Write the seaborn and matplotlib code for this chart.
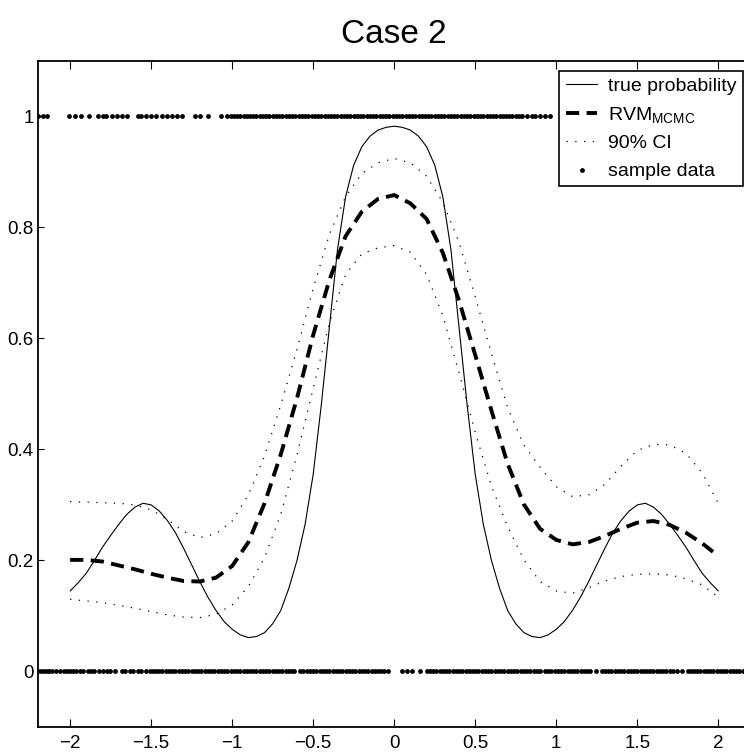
import matplotlib
matplotlib.use("Agg")
import matplotlib.pyplot as plt
import numpy as np
import pandas as pd
import seaborn as sns

# ---- curves -------------------------------------------------------------
x_true = [-2.0, -1.95, -1.9, -1.85, -1.8, -1.75, -1.7, -1.65, -1.6, -1.55,
          -1.5, -1.45, -1.4, -1.35, -1.3, -1.25, -1.2, -1.15, -1.1, -1.05,
          -1.0, -0.95, -0.9, -0.85, -0.8, -0.75, -0.7, -0.65, -0.6, -0.55,
          -0.5, -0.45, -0.4, -0.35, -0.3, -0.25, -0.2, -0.15, -0.1, -0.05,
          0.0, 0.05, 0.1, 0.15, 0.2, 0.25, 0.3, 0.35, 0.4, 0.45,
          0.5, 0.55, 0.6, 0.65, 0.7, 0.75, 0.8, 0.85, 0.9, 0.95,
          1.0, 1.05, 1.1, 1.15, 1.2, 1.25, 1.3, 1.35, 1.4, 1.45,
          1.5, 1.55, 1.6, 1.65, 1.7, 1.75, 1.8, 1.85, 1.9, 1.95, 2.0]
p_true = [0.145, 0.160, 0.177, 0.200, 0.224, 0.245, 0.265, 0.283, 0.296, 0.303,
          0.300, 0.289, 0.272, 0.250, 0.222, 0.192, 0.162, 0.134, 0.110, 0.090,
          0.076, 0.066, 0.061, 0.063, 0.070, 0.086, 0.110, 0.150, 0.200, 0.265,
          0.355, 0.480, 0.620, 0.760, 0.855, 0.912, 0.945, 0.964, 0.975, 0.980,
          0.982, 0.980, 0.975, 0.964, 0.945, 0.912, 0.855, 0.760, 0.620, 0.480,
          0.355, 0.265, 0.200, 0.150, 0.110, 0.086, 0.070, 0.063, 0.061, 0.066,
          0.076, 0.090, 0.110, 0.134, 0.162, 0.192, 0.222, 0.250, 0.272, 0.289,
          0.300, 0.303, 0.296, 0.283, 0.265, 0.245, 0.224, 0.200, 0.177, 0.160, 0.145]

x_est = [-2.0, -1.9, -1.8, -1.7, -1.6, -1.5, -1.4, -1.3, -1.2, -1.1,
         -1.0, -0.9, -0.8, -0.7, -0.6, -0.5, -0.4, -0.3, -0.2, -0.1,
         0.0, 0.1, 0.2, 0.3, 0.4, 0.5, 0.6, 0.7, 0.8, 0.9,
         1.0, 1.1, 1.2, 1.3, 1.4, 1.5, 1.6, 1.7, 1.8, 1.9, 2.0]
p_rvm = [0.201, 0.201, 0.198, 0.191, 0.184, 0.176, 0.169, 0.163, 0.162, 0.169,
         0.190, 0.233, 0.303, 0.391, 0.492, 0.606, 0.705, 0.784, 0.828, 0.851,
         0.858, 0.843, 0.815, 0.754, 0.668, 0.570, 0.470, 0.374, 0.301, 0.257,
         0.237, 0.229, 0.233, 0.244, 0.257, 0.268, 0.271, 0.264, 0.250, 0.231, 0.208]
ci_upper = [0.306, 0.305, 0.304, 0.303, 0.300, 0.291, 0.274, 0.252, 0.241, 0.248,
            0.271, 0.318, 0.388, 0.480, 0.580, 0.690, 0.787, 0.855, 0.897, 0.916,
            0.924, 0.916, 0.892, 0.845, 0.773, 0.675, 0.573, 0.475, 0.408, 0.368,
            0.333, 0.315, 0.318, 0.337, 0.370, 0.398, 0.409, 0.408, 0.393, 0.358, 0.303]
ci_lower = [0.130, 0.127, 0.124, 0.119, 0.114, 0.108, 0.102, 0.098, 0.097, 0.103,
            0.120, 0.153, 0.205, 0.283, 0.390, 0.510, 0.628, 0.715, 0.752, 0.763,
            0.767, 0.755, 0.715, 0.641, 0.538, 0.431, 0.334, 0.261, 0.201, 0.162,
            0.145, 0.141, 0.151, 0.163, 0.171, 0.175, 0.176, 0.174, 0.167, 0.156, 0.134]

# ---- sample data (class 1 on top row, class 0 on bottom row) ------------
x_class1 = [-2.20, -2.17, -2.14, -2.01, -1.97, -1.93, -1.885, -1.83, -1.80, -1.78,
            -1.74, -1.71, -1.68, -1.65, -1.58, -1.56, -1.53, -1.50, -1.47, -1.43,
            -1.40, -1.37, -1.34, -1.31, -1.23, -1.20, -1.15, -1.07,
            -1.03, -1.01, -0.99, -0.97, -0.95, -0.93, -0.91, -0.89, -0.87, -0.85,
            -0.83, -0.81, -0.79, -0.77, -0.75, -0.73, -0.71, -0.69, -0.67, -0.65,
            -0.63, -0.61, -0.59, -0.57, -0.55, -0.53, -0.51, -0.49, -0.47, -0.45,
            -0.43, -0.41, -0.39, -0.37, -0.35, -0.33, -0.31, -0.29, -0.27, -0.25,
            -0.23, -0.21, -0.19, -0.17, -0.15, -0.13, -0.11, -0.09, -0.07, -0.05,
            -0.03, -0.01, 0.01, 0.03, 0.05, 0.07, 0.09, 0.11, 0.13, 0.15,
            0.17, 0.19, 0.21, 0.23, 0.25, 0.27, 0.29, 0.31, 0.33, 0.35,
            0.37, 0.39, 0.41, 0.43, 0.45, 0.47, 0.49, 0.51, 0.53, 0.55,
            0.57, 0.59, 0.61, 0.63, 0.65, 0.67, 0.69, 0.71, 0.73, 0.75,
            0.77, 0.79, 0.82, 0.85, 0.87, 0.90, 0.93, 0.96]
x_class0 = [-2.20, -2.18, -2.16, -2.14, -2.13, -2.11, -2.09, -2.06, -2.04, -2.02,
            -2.00, -1.98, -1.965, -1.94, -1.92, -1.89, -1.87, -1.85, -1.82, -1.80,
            -1.775, -1.755, -1.72, -1.68, -1.66, -1.63, -1.61, -1.58, -1.565,
            -1.53, -1.51, -1.49, -1.47, -1.45, -1.43, -1.41, -1.39, -1.37, -1.35,
            -1.33, -1.31, -1.29, -1.27, -1.25, -1.23, -1.21, -1.19, -1.17, -1.15,
            -1.13, -1.11, -1.09, -1.07, -1.05, -1.03, -1.01, -0.99, -0.97, -0.95,
            -0.93, -0.91, -0.89, -0.87, -0.85, -0.83, -0.81, -0.79, -0.77, -0.75,
            -0.73, -0.71, -0.69, -0.67, -0.65, -0.63, -0.62,
            -0.58, -0.56, -0.54, -0.52, -0.50, -0.48, -0.46, -0.44, -0.42, -0.40,
            -0.38, -0.36, -0.34, -0.32, -0.30, -0.28, -0.26, -0.24, -0.22, -0.20,
            -0.18, -0.16, -0.14, -0.12, -0.10, -0.08, -0.06, -0.04,
            0.05, 0.08, 0.11, 0.16,
            0.20, 0.22, 0.24, 0.26, 0.28, 0.30, 0.32, 0.34, 0.36, 0.38,
            0.40, 0.42, 0.44, 0.46, 0.48, 0.50, 0.52, 0.54, 0.56, 0.58,
            0.60, 0.62, 0.64, 0.66, 0.68, 0.70, 0.72, 0.74, 0.76, 0.78,
            0.80, 0.82, 0.84, 0.86, 0.88, 0.90,
            0.93, 0.95, 0.97, 0.99, 1.01, 1.03, 1.05, 1.07, 1.09, 1.11,
            1.13, 1.15, 1.17, 1.19, 1.21, 1.245,
            1.28, 1.30, 1.32, 1.34, 1.36, 1.38, 1.40, 1.42,
            1.44, 1.46, 1.48, 1.50, 1.52, 1.54, 1.56, 1.58, 1.60, 1.62,
            1.64, 1.66, 1.68, 1.70, 1.72, 1.745, 1.775,
            1.81, 1.83, 1.85, 1.87, 1.89, 1.91, 1.93, 1.95, 1.97, 1.99,
            2.01, 2.03, 2.05, 2.07, 2.09, 2.11, 2.13, 2.15, 2.17]

x_ticks = [-2, -1.5, -1, -0.5, 0, 0.5, 1, 1.5, 2]
x_ticklabels = ["\u22122", "\u22121.5", "\u22121", "\u22120.5", "0", "0.5", "1", "1.5", "2"]
y_ticks = [0, 0.2, 0.4, 0.6, 0.8, 1]
y_ticklabels = ["0", "0.2", "0.4", "0.6", "0.8", "1"]

# ---- style ----------------------------------------------------------------
sns.set_style("ticks")
plt.rcParams["font.family"] = ["Liberation Sans", "DejaVu Sans"]
plt.rcParams["text.color"] = "black"
plt.rcParams["mathtext.fontset"] = "custom"
plt.rcParams["mathtext.rm"] = "Liberation Sans"
plt.rcParams["mathtext.it"] = "Liberation Sans:italic"
plt.rcParams["mathtext.bf"] = "Liberation Sans:bold"

fig = plt.figure(figsize=(7.44, 7.53), dpi=100)
ax = fig.add_axes([0.0507, 0.0345, 0.9583, 0.8849])

sns.lineplot(x=x_true, y=p_true, ax=ax, color="black", linewidth=0.8,
             sort=False, errorbar=None)
h_true = ax.lines[-1]
sns.lineplot(x=x_est, y=p_rvm, ax=ax, color="black", linewidth=2.8,
             linestyle=(0, (3.4, 1.9)), sort=False, errorbar=None)
h_rvm = ax.lines[-1]
sns.lineplot(x=x_est, y=ci_upper, ax=ax, color="black", linewidth=0.9,
             linestyle=(0, (1, 6)), sort=False, errorbar=None)
h_ci = ax.lines[-1]
sns.lineplot(x=x_est, y=ci_lower, ax=ax, color="black", linewidth=0.9,
             linestyle=(0, (1, 6)), sort=False, errorbar=None)

samples = pd.DataFrame({
    "x": x_class1 + x_class0,
    "label": [1] * len(x_class1) + [0] * len(x_class0),
})
sns.scatterplot(data=samples, x="x", y="label", ax=ax, color="black",
                s=12, linewidth=0, marker="o", legend=False)
h_pts = ax.collections[-1]

ax.set_xlim(-2.2, 2.2)
ax.set_ylim(-0.1, 1.1)
ax.set_xlabel("")
ax.set_ylabel("")
ax.set_xticks(x_ticks)
ax.set_xticklabels(x_ticklabels)
ax.set_yticks(y_ticks)
ax.set_yticklabels(y_ticklabels)
ax.tick_params(axis="x", direction="in", length=6, width=0.8, top=True,
               labelsize=13.5, pad=6, colors="black")
ax.tick_params(axis="y", direction="in", length=4, width=0.8, right=True,
               labelsize=13.5, pad=3, colors="black")
for side in ["left", "bottom", "top", "right"]:
    ax.spines[side].set_visible(True)
    ax.spines[side].set_linewidth(1.3)
    ax.spines[side].set_color("black")

ax.set_title("Case 2", fontsize=24, pad=13, color="black")

leg = ax.legend([h_true, h_rvm, h_ci, h_pts],
                ["true probability", r"RVM$_{\mathrm{MCMC}}$", "90% CI", "sample data"],
                loc="upper right", bbox_to_anchor=(743.3 / 744, 1 - 70.7 / 753),
                bbox_transform=fig.transFigure, borderaxespad=0,
                frameon=True, fancybox=False, framealpha=1, edgecolor="black",
                fontsize=14, handlelength=1.6, handletextpad=0.55,
                borderpad=0.35, labelspacing=0.5, scatterpoints=1)
leg.get_frame().set_linewidth(1.2)
for txt in leg.get_texts():
    txt.set_color("black")

fig.savefig("out.png", dpi=100)
